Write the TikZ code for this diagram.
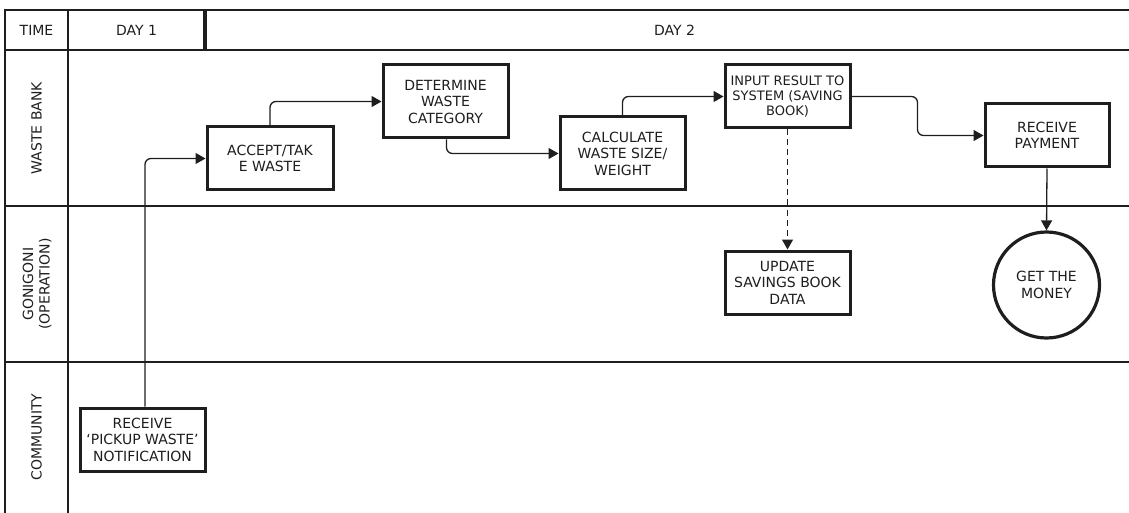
\documentclass[tikz,border=0pt]{standalone}
\usepackage{fontspec}
\setmainfont{DejaVu Sans}
\usetikzlibrary{arrows.meta,calc}
\definecolor{ink}{HTML}{1E1E1E}
\tikzset{
  grid/.style={draw=ink, line width=1.4pt},
  stepbox/.style={draw=ink, line width=3pt, fill=white, align=center,
    inner sep=0pt, font=\fontsize{14}{16.5}\selectfont, text=ink},
  endcircle/.style={draw=ink, line width=3.2pt, circle, minimum size=106pt,
    inner sep=0pt, align=center, font=\fontsize{14}{16.5}\selectfont, text=ink},
  label/.style={font=\fontsize{14}{16.5}\selectfont, text=ink, align=center},
  flow/.style={draw=ink, line width=1.3pt, rounded corners=6pt,
    -{Triangle[length=10pt,width=11pt]}},
}
\begin{document}
\begin{tikzpicture}[x=1pt,y=-1pt]
  \useasboundingbox (0,0) rectangle (1129,513);

  % swimlane frame
  \draw[grid] (5,513) -- (5,10) -- (1129,10);
  \draw[grid] (5,50) -- (1129,50);
  \draw[grid] (5,206) -- (1129,206);
  \draw[grid] (5,362) -- (1129,362);
  \draw[grid] (68,10) -- (68,513);
  \draw[draw=ink, line width=4pt] (205,10) -- (205,50);

  % header and lane titles
  \node[label] (time) at (36.5,30) {TIME};
  \node[label] (day1) at (136.5,30) {DAY 1};
  \node[label] (day2) at (674.5,30) {DAY 2};
  \node[label, rotate=90] (lane1) at (36.5,128) {WASTE BANK};
  \node[label, rotate=90] (lane2) at (37,284) {GONIGONI\\(OPERATION)};
  \node[label, rotate=90] (lane3) at (36.5,437) {COMMUNITY};

  % process steps
  \node[stepbox, minimum width=126pt, minimum height=63pt] (accept) at (270,158.5) {ACCEPT/TAK\\E WASTE};
  \node[stepbox, minimum width=125pt, minimum height=73pt] (determine) at (445.5,101.5) {DETERMINE\\WASTE\\CATEGORY};
  \node[stepbox, minimum width=125pt, minimum height=73pt] (calc) at (622.5,153.5) {CALCULATE\\WASTE SIZE/\\WEIGHT};
  \node[stepbox, minimum width=125pt, minimum height=63pt, font=\fontsize{13}{15}\selectfont] (input) at (787.5,96.5) {INPUT RESULT TO\\SYSTEM (SAVING\\BOOK)};
  \node[stepbox, minimum width=124pt, minimum height=63pt] (pay) at (1047,135.5) {RECEIVE\\PAYMENT};
  \node[stepbox, minimum width=125pt, minimum height=63pt] (update) at (787.5,282.5) {UPDATE\\SAVINGS BOOK\\DATA};
  \node[endcircle] (money) at (1046.5,285) {GET THE\\MONEY};
  \node[stepbox, minimum width=125pt, minimum height=63pt] (notif) at (142.5,439.5) {RECEIVE\\‘PICKUP WASTE’\\NOTIFICATION};

  % connectors
  \draw[flow] ($(notif.north)+(2.5,0)$) |- (accept.west);
  \draw[flow] (accept.north) |- (determine.west);
  \draw[flow] ($(determine.south)+(1,0)$) |- (calc.west);
  \draw[flow] (calc.north) |- (input.west);
  \coordinate (mid) at ($(input.east)!0.5!(pay.west)$);
  \draw[flow] (input.east) -| (mid) |- (pay.west);
  \draw[flow, dash pattern=on 6pt off 4pt, rounded corners=0pt] (input.south) -- (update.north);
  \draw[flow, rounded corners=0pt] (pay.south) -- (money.north);
\end{tikzpicture}
\end{document}
